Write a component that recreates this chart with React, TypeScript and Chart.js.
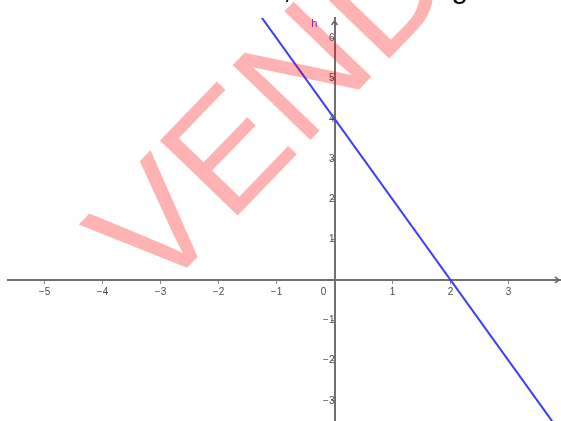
import { useEffect, useRef } from 'react';
import { Chart, registerables } from 'chart.js';

Chart.register(...registerables);

// ---- data ----
const lineName = 'h';
const lineXs = [-1.5, 4.0];
const lineYs = [7.0, -4.0];
const labelPos = { x: -0.35, y: 6.35 };

const xTickValues = [-5, -4, -3, -2, -1, 0, 1, 2, 3];
const yTickValues = [-3, -2, -1, 1, 2, 3, 4, 5, 6];

const xRange = [-5.63, 3.905];
const yRange = [-3.5, 6.5];

const watermarkText = 'VENDA';
const headerText = ', e uma reta g';

const fmt = (v: number) => (v < 0 ? '\u2212' + Math.abs(v) : String(v));

const zeroPad = (s: any) => {
  s.paddingLeft = 0;
  s.paddingRight = 0;
  s.paddingTop = 0;
  s.paddingBottom = 0;
};

const overlayPlugin = {
  id: 'overlay',
  afterDatasetsDraw(chart: any) {
    const { ctx, scales } = chart;
    ctx.save();
    ctx.fillStyle = '#6a34c8';
    ctx.font = '11px "Liberation Sans", Arial, sans-serif';
    ctx.textAlign = 'center';
    ctx.textBaseline = 'middle';
    ctx.fillText(lineName, scales.x.getPixelForValue(labelPos.x), scales.y.getPixelForValue(labelPos.y));
    ctx.restore();

    // axis arrowheads
    const x0 = scales.x.getPixelForValue(0);
    const y0 = scales.y.getPixelForValue(0);
    const area = chart.chartArea;
    ctx.save();
    ctx.strokeStyle = '#666';
    ctx.lineWidth = 1.5;
    ctx.beginPath();
    ctx.moveTo(area.right - 6, y0 - 3);
    ctx.lineTo(area.right - 2, y0);
    ctx.lineTo(area.right - 6, y0 + 3);
    ctx.moveTo(x0 - 3, area.top + 7);
    ctx.lineTo(x0, area.top + 3);
    ctx.lineTo(x0 + 3, area.top + 7);
    ctx.stroke();
    ctx.restore();
  },
  afterDraw(chart: any) {
    const { ctx } = chart;
    ctx.save();
    ctx.translate(156, 300);
    ctx.rotate((-46 * Math.PI) / 180);
    ctx.fillStyle = 'rgba(255,0,0,0.3)';
    ctx.font = '157px "Liberation Sans", Arial, sans-serif';
    ctx.textBaseline = 'alphabetic';
    ctx.fillText(watermarkText, 0, 0);
    ctx.restore();

    ctx.save();
    ctx.fillStyle = '#000';
    ctx.font = '30px "Liberation Sans", Arial, sans-serif';
    ctx.textBaseline = 'alphabetic';
    ctx.fillText(headerText, 283, -2);
    ctx.restore();
  },
};

export default function App() {
  const ref = useRef<HTMLCanvasElement | null>(null);

  useEffect(() => {
    if (!ref.current) return;
    const chart = new Chart(ref.current, {
      type: 'scatter',
      data: {
        datasets: [
          {
            label: lineName,
            data: lineXs.map((x, i) => ({ x, y: lineYs[i] })),
            showLine: true,
            borderColor: '#3c3cff',
            backgroundColor: '#3c3cff',
            borderWidth: 2,
            pointRadius: 0,
            fill: false,
          },
        ],
      },
      options: {
        responsive: false,
        animation: false,
        layout: { padding: { left: 8, top: 18, right: 0, bottom: 0 } },
        plugins: { legend: { display: false }, tooltip: { enabled: false } },
        scales: {
          x: {
            type: 'linear',
            min: xRange[0],
            max: xRange[1],
            position: { y: 0 } as any,
            afterFit: (s: any) => {
              s.height = 0;
              zeroPad(s);
            },
            afterBuildTicks: (s: any) => {
              s.ticks = xTickValues.map((v) => ({ value: v }));
            },
            grid: { drawOnChartArea: false, drawTicks: true, tickLength: 3, tickColor: '#888', tickWidth: 1 },
            border: { display: true, color: '#707070', width: 2 },
            ticks: {
              autoSkip: false,
              maxRotation: 0,
              minRotation: 0,
              padding: 3,
              color: '#4a4a4a',
              font: { size: 10, family: '"Liberation Sans", Arial, sans-serif' },
              callback: (v: any) => (Number(v) === 0 ? '0        ' : fmt(Number(v))),
            },
          },
          y: {
            type: 'linear',
            min: yRange[0],
            max: yRange[1],
            position: { x: 0 } as any,
            afterFit: (s: any) => {
              s.width = 0;
              zeroPad(s);
            },
            afterBuildTicks: (s: any) => {
              s.ticks = yTickValues.map((v) => ({ value: v }));
            },
            grid: { drawOnChartArea: false, drawTicks: true, tickLength: 3, tickColor: '#888', tickWidth: 1 },
            border: { display: true, color: '#707070', width: 2 },
            ticks: {
              autoSkip: false,
              padding: 4,
              color: '#4a4a4a',
              font: { size: 10, family: '"Liberation Sans", Arial, sans-serif' },
              callback: (v: any) => fmt(Number(v)),
            },
          },
        },
      },
      plugins: [overlayPlugin],
    });
    return () => chart.destroy();
  }, []);

  return (
    <div style={{ position: 'absolute', left: 0, top: 0, width: 561, height: 421, background: '#fff' }}>
      <canvas ref={ref} width={561} height={421} style={{ display: 'block' }} />
    </div>
  );
}
